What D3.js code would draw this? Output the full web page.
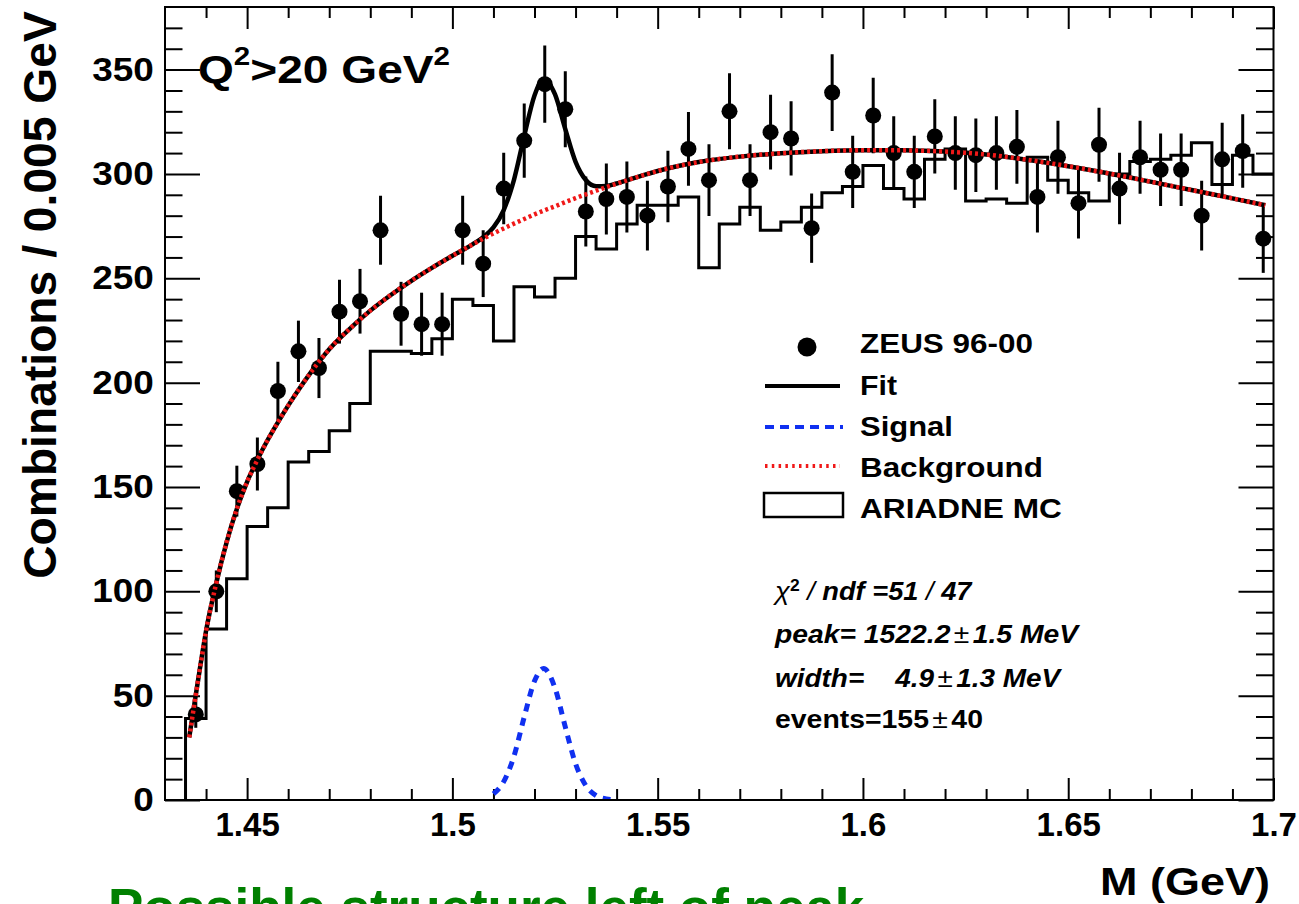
<!DOCTYPE html>
<html>
<head>
<meta charset="utf-8">
<script src="https://cdn.jsdelivr.net/npm/d3@7"></script>
<style>
  html, body { margin: 0; padding: 0; background: #fff; }
  svg { display: block; font-family: "Liberation Sans", Arial, Helvetica, sans-serif; }
  text { white-space: pre; }
</style>
</head>
<body>
<svg id="chart" width="1299" height="904"></svg>
<script>
// ---- ZEUS 96-00: combinations per 5 MeV bin (bin centres in GeV) ----
const massBins = [1.4375,1.4425,1.4475,1.4525,1.4575,1.4625,1.4675,1.4725,1.4775,1.4825,
  1.4875,1.4925,1.4975,1.5025,1.5075,1.5125,1.5175,1.5225,1.5275,1.5325,
  1.5375,1.5425,1.5475,1.5525,1.5575,1.5625,1.5675,1.5725,1.5775,1.5825,
  1.5875,1.5925,1.5975,1.6025,1.6075,1.6125,1.6175,1.6225,1.6275,1.6325,
  1.6375,1.6425,1.6475,1.6525,1.6575,1.6625,1.6675,1.6725,1.6775,1.6825,
  1.6875,1.6925,1.6975];
const counts = [41,100,148,161,196,215,207,234,239,273,
  233,228,228,273,257,293,316,343,331,282,
  288,289,280,294,312,297,330,297,320,317,
  274,339,301,328,310,301,318,310,309,310,
  313,289,308,286,314,293,308,302,302,280,
  307,311,269];
const countErrors = [6.4,10.0,12.2,12.7,14.0,14.7,14.4,15.3,15.5,16.5,
  15.3,15.1,15.1,16.5,16.0,17.1,17.8,18.5,18.2,16.8,
  17.0,17.0,16.7,17.1,17.7,17.2,18.2,17.2,17.9,17.8,
  16.6,18.4,17.3,18.1,17.6,17.3,17.8,17.6,17.6,17.6,
  17.7,17.0,17.5,16.9,17.7,17.1,17.5,17.4,17.4,16.7,
  17.5,17.6,16.4];

// ---- ARIADNE MC histogram: bin edges and contents ----
const mcEdges = [1.435,1.440,1.445,1.450,1.455,1.460,1.465,1.470,1.475,1.480,
  1.485,1.490,1.495,1.500,1.505,1.510,1.515,1.520,1.525,1.530,
  1.535,1.540,1.545,1.550,1.555,1.560,1.565,1.570,1.575,1.580,
  1.585,1.590,1.595,1.600,1.605,1.610,1.615,1.620,1.625,1.630,
  1.635,1.640,1.645,1.650,1.655,1.660,1.665,1.670,1.675,1.680,
  1.685,1.690,1.695,1.700];
const mcCounts = [39,82,106,131,140,162,167,177,190,215,
  215,214,221,240,237,220,246,241,250,270,
  264,276,285,285,289,255,276,284,273,277,
  284,291,294,304,293,288,307,312,287,288,
  286,308,297,291,287,300,306,307,309,315,
  295,309,300];

// ---- Fit components sampled along the mass axis ----
const curveMass = [1.4359,1.437,1.4385,1.44,1.4425,1.445,1.4475,1.45,1.4525,1.455,
  1.4575,1.46,1.4625,1.465,1.4675,1.47,1.475,1.48,1.485,1.49,
  1.495,1.50,1.505,1.5075,1.51,1.5125,1.515,1.5175,1.52,1.5222,
  1.525,1.5275,1.53,1.5325,1.535,1.5375,1.54,1.545,1.55,1.56,
  1.57,1.58,1.59,1.60,1.61,1.62,1.63,1.64,1.65,1.66,
  1.67,1.68,1.69,1.698];
const backgroundCurve = [30,44,63,81,104,123.5,139.5,152.5,163,172.5,
  181,189,196.5,203.5,210,216,225.8,234.5,242,248.8,
  255,260.8,266.3,269,271.5,273.9,276.2,278.4,280.6,282.4,
  284.5,286.5,288.4,290.2,292,293.7,295.3,298.5,301.4,305.7,
  308.3,309.9,310.9,311.4,311.3,310.7,309.3,306.8,303.7,300.2,
  296.3,292.3,288.3,285];
const signalCurve = [0,0,0,0,0,0,0,0,0,0,
  0,0,0,0,0,0,0,0,0,0,
  0,0,0.1,0.7,2.9,8.8,21,39.8,57,63,
  53.6,35,17.4,6.9,2.1,0.5,0.1,0,0,0,
  0,0,0,0,0,0,0,0,0,0,
  0,0,0,0];

// ---- Axes ----
const yTicks = [0,50,100,150,200,250,300,350];
const yTickLabels = ["0","50","100","150","200","250","300","350"];
const xTicks = [1.45,1.5,1.55,1.6,1.65,1.7];
const xTickLabels = ["1.45","1.5","1.55","1.6","1.65","1.7"];

const X0 = 165, X1 = 1273.5, Y0 = 800, Y1 = 7;
const x = d3.scaleLinear().domain([1.43, 1.70]).range([X0, X1]);
const y = d3.scaleLinear().domain([0, 380]).range([Y0, Y1]);

const svg = d3.select("#chart");
svg.append("rect").attr("width", 1299).attr("height", 904).attr("fill", "#fff");

svg.append("clipPath").attr("id", "plot-clip")
  .append("rect").attr("x", X0).attr("y", Y1).attr("width", X1 - X0).attr("height", Y0 - Y1);

// stretch a text group horizontally (in its own frame) to a given width
function fitWidth(g, width) {
  const w = g.node().getBBox().width;
  g.attr("transform", g.attr("transform") + ` scale(${width / w},1)`);
}

// ---- tick marks (inward on all four sides) ----
function styleAxis(g) {
  g.select(".domain").remove();
  g.selectAll("line").attr("stroke", "#000").attr("stroke-width", 2);
  return g;
}
const minorX = x.ticks(27).filter(t => !xTicks.some(M => Math.abs(M - t) < 1e-6) && t > 1.4305 && t < 1.6995);
const minorY = y.ticks(38).filter(t => t % 50 !== 0 && t < 379);

const gxBottom = svg.append("g").attr("transform", `translate(0,${Y0})`)
  .call(d3.axisBottom(x).tickValues(xTicks).tickFormat((d, i) => xTickLabels[i])
    .tickSize(-22).tickSizeOuter(0).tickPadding(13));
styleAxis(gxBottom).attr("font-size", 33).attr("font-weight", "bold")
  .attr("font-family", "Liberation Sans, Arial, sans-serif");
gxBottom.selectAll("text").attr("fill", "#000");

styleAxis(svg.append("g").attr("transform", `translate(0,${Y0})`)
  .call(d3.axisBottom(x).tickValues(minorX).tickFormat("").tickSize(-11).tickSizeOuter(0)));
styleAxis(svg.append("g").attr("transform", `translate(0,${Y1})`)
  .call(d3.axisTop(x).tickValues(xTicks).tickFormat("").tickSize(-22).tickSizeOuter(0)));
styleAxis(svg.append("g").attr("transform", `translate(0,${Y1})`)
  .call(d3.axisTop(x).tickValues(minorX).tickFormat("").tickSize(-11).tickSizeOuter(0)));

const gyLeft = svg.append("g").attr("transform", `translate(${X0},0)`)
  .call(d3.axisLeft(y).tickValues(yTicks).tickFormat((d, i) => yTickLabels[i])
    .tickSize(-35).tickSizeOuter(0).tickPadding(10));
styleAxis(gyLeft).attr("font-size", 33).attr("font-weight", "bold")
  .attr("font-family", "Liberation Sans, Arial, sans-serif");
gyLeft.selectAll("text").attr("fill", "#000").attr("transform", "scale(1.12,1)");

styleAxis(svg.append("g").attr("transform", `translate(${X0},0)`)
  .call(d3.axisLeft(y).tickValues(minorY).tickFormat("").tickSize(-17.5).tickSizeOuter(0)));
styleAxis(svg.append("g").attr("transform", `translate(${X1},0)`)
  .call(d3.axisRight(y).tickValues(yTicks).tickFormat("").tickSize(-35).tickSizeOuter(0)));
styleAxis(svg.append("g").attr("transform", `translate(${X1},0)`)
  .call(d3.axisRight(y).tickValues(minorY).tickFormat("").tickSize(-17.5).tickSizeOuter(0)));

const plot = svg.append("g").attr("clip-path", "url(#plot-clip)");

// ---- ARIADNE MC step histogram ----
const mcPoints = [[mcEdges[0], 0]];
mcCounts.forEach((c, i) => mcPoints.push([mcEdges[i], c]));
mcPoints.push([mcEdges[mcEdges.length - 1], mcCounts[mcCounts.length - 1]]);
plot.append("path")
  .attr("d", d3.line().x(d => x(d[0])).y(d => y(d[1])).curve(d3.curveStepAfter)(mcPoints))
  .attr("fill", "none").attr("stroke", "#000").attr("stroke-width", 3);

// ---- data points with statistical errors ----
const data = massBins.map((m, i) => ({ m, v: counts[i], e: countErrors[i] }));
plot.append("g").selectAll("line").data(data).join("line")
  .attr("x1", d => x(d.m)).attr("x2", d => x(d.m))
  .attr("y1", d => y(d.v - d.e)).attr("y2", d => y(d.v + d.e))
  .attr("stroke", "#000").attr("stroke-width", 3);
plot.append("g").selectAll("circle").data(data).join("circle")
  .attr("cx", d => x(d.m)).attr("cy", d => y(d.v)).attr("r", 8).attr("fill", "#000");

// ---- fit = background + signal ----
const curveLine = d3.line().x(d => x(d.m)).y(d => y(d.v)).curve(d3.curveMonotoneX);
const fitPts = curveMass.map((m, i) => ({ m, v: backgroundCurve[i] + signalCurve[i] }));
const bkgPts = curveMass.map((m, i) => ({ m, v: backgroundCurve[i] }));
const sigPts = curveMass.map((m, i) => ({ m, v: signalCurve[i] })).filter(d => d.m >= 1.5099 && d.m <= 1.5401);

plot.append("path").attr("d", curveLine(fitPts))
  .attr("fill", "none").attr("stroke", "#000").attr("stroke-width", 4.5);
plot.append("path").attr("d", curveLine(bkgPts))
  .attr("fill", "none").attr("stroke", "#f01818").attr("stroke-width", 4.5)
  .attr("stroke-dasharray", "3,3");
plot.append("path").attr("d", curveLine(sigPts))
  .attr("fill", "none").attr("stroke", "#1030f0").attr("stroke-width", 5)
  .attr("stroke-dasharray", "8,7");

// ---- frame ----
svg.append("rect").attr("x", X0).attr("y", Y1).attr("width", X1 - X0).attr("height", Y0 - Y1)
  .attr("fill", "none").attr("stroke", "#000").attr("stroke-width", 2);

// ---- axis titles ----
const yTitle = svg.append("g").attr("transform", "translate(56,295) rotate(-90)");
yTitle.append("text").attr("text-anchor", "middle").attr("font-size", 46).attr("font-weight", "bold")
  .text("Combinations / 0.005 GeV");
fitWidth(yTitle, 568);

const xTitle = svg.append("g").attr("transform", "translate(1270,895)");
xTitle.append("text").attr("text-anchor", "end").attr("font-size", 39).attr("font-weight", "bold")
  .text("M (GeV)");
fitWidth(xTitle, 170);

// ---- Q^2 cut label ----
const qLabel = svg.append("g").attr("transform", "translate(198,83)");
const qText = qLabel.append("text").attr("font-size", 39).attr("font-weight", "bold");
qText.append("tspan").text("Q");
qText.append("tspan").attr("font-size", 25).attr("dy", -18).text("2");
qText.append("tspan").attr("dy", 18).text(">20 GeV");
qText.append("tspan").attr("font-size", 25).attr("dy", -18).text("2");
fitWidth(qLabel, 252);

// ---- legend ----
const legend = svg.append("g");
legend.append("circle").attr("cx", 807).attr("cy", 347).attr("r", 9.5).attr("fill", "#000");
legend.append("line").attr("x1", 765).attr("x2", 840).attr("y1", 386).attr("y2", 386)
  .attr("stroke", "#000").attr("stroke-width", 4);
legend.append("line").attr("x1", 765).attr("x2", 843).attr("y1", 427).attr("y2", 427)
  .attr("stroke", "#1030f0").attr("stroke-width", 4).attr("stroke-dasharray", "9,6");
legend.append("line").attr("x1", 765).attr("x2", 840).attr("y1", 466).attr("y2", 466)
  .attr("stroke", "#f01818").attr("stroke-width", 4).attr("stroke-dasharray", "2.5,4.3");
legend.append("rect").attr("x", 764).attr("y", 493).attr("width", 79).attr("height", 24)
  .attr("fill", "none").attr("stroke", "#000").attr("stroke-width", 2.5);

const legendEntries = [
  { label: "ZEUS 96-00", base: 353, w: 173 },
  { label: "Fit", base: 395, w: 37 },
  { label: "Signal", base: 436, w: 93 },
  { label: "Background", base: 477, w: 183 },
  { label: "ARIADNE MC", base: 518, w: 202 }
];
legendEntries.forEach(d => {
  const g = legend.append("g").attr("transform", `translate(860,${d.base})`);
  g.append("text").attr("font-size", 27).attr("font-weight", "bold").text(d.label);
  fitWidth(g, d.w);
});

// ---- fit results ----
function statLine(base, width, parts) {
  const g = svg.append("g").attr("transform", `translate(775,${base})`);
  const t = g.append("text").attr("font-size", 25).attr("font-weight", "bold");
  parts.forEach(p => {
    const s = t.append("tspan").text(p.t);
    if (p.italic) s.attr("font-style", "italic");
    if (p.normal) s.attr("font-weight", "normal");
    if (p.size) s.attr("font-size", p.size);
    if (p.dy) s.attr("dy", p.dy);
    if (p.dx) s.attr("dx", p.dx);
  });
  fitWidth(g, width);
}
statLine(600, 200, [
  { t: "χ", italic: true, normal: true },
  { t: "2", size: 16, dy: -9 },
  { t: " / ", normal: true, italic: true, dy: 9 },
  { t: "ndf =51", italic: true },
  { t: " / ", normal: true, italic: true },
  { t: "47", italic: true }
]);
statLine(643, 307, [
  { t: "peak= 1522.2", italic: true },
  { t: "±", normal: true, dx: 3 },
  { t: "1.5 MeV", italic: true, dx: 3 }
]);
statLine(687, 288, [
  { t: "width=    4.9", italic: true },
  { t: "±", normal: true, dx: 3 },
  { t: "1.3 MeV", italic: true, dx: 3 }
]);
statLine(728, 208, [
  { t: "events=155" },
  { t: "±", normal: true, dx: 3 },
  { t: "40", dx: 3 }
]);

// ---- note under the plot ----
const note = svg.append("g").attr("transform", "translate(108,926)");
note.append("text").attr("font-size", 53).attr("font-weight", "bold").attr("fill", "#008000")
  .text("Possible structure left of peak");
fitWidth(note, 757);
</script>
</body>
</html>
